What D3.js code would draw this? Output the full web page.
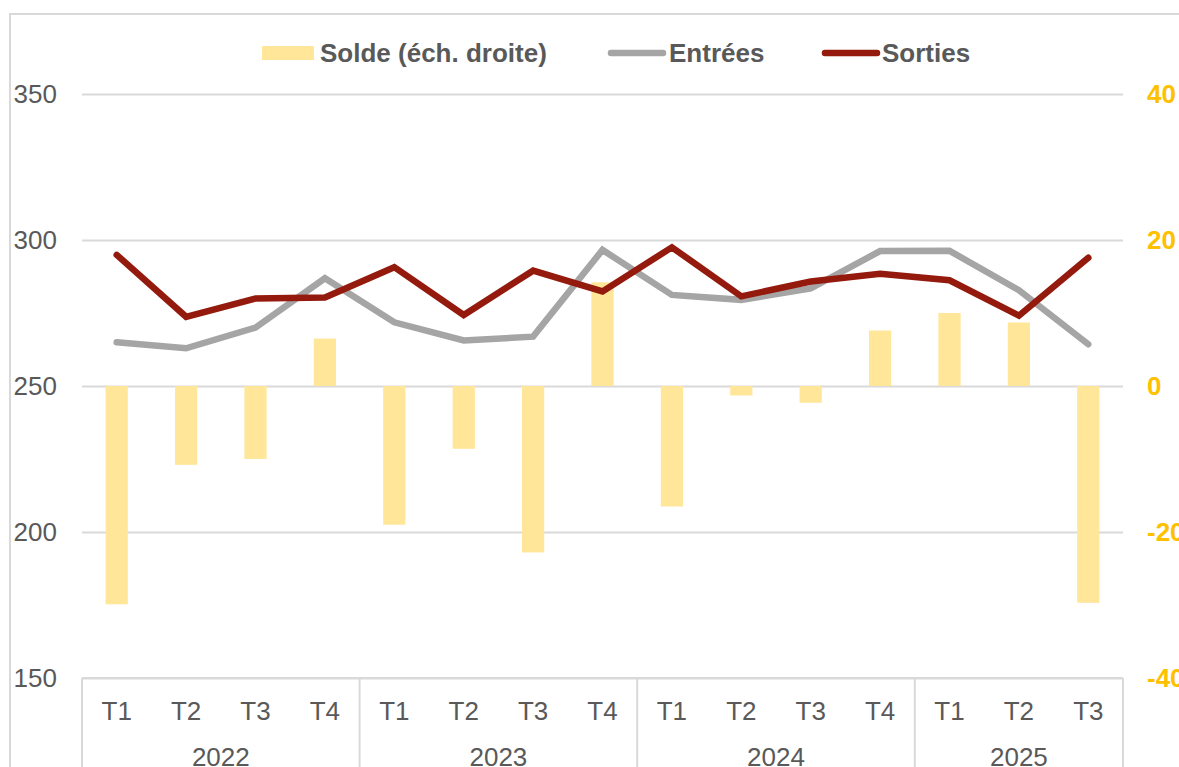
<!DOCTYPE html>
<html>
<head>
<meta charset="utf-8">
<script src="https://cdn.jsdelivr.net/npm/d3@7"></script>
<style>
  html, body { margin: 0; padding: 0; background: #fff; overflow: hidden; }
  svg { display: block; font-family: "Liberation Sans", Arial, sans-serif; }
</style>
</head>
<body>
<svg id="chart" width="1179" height="767"></svg>
<script>
// ---- Data ----
const years = ["2022", "2023", "2024", "2025"];
const quarters = ["T1","T2","T3","T4","T1","T2","T3","T4","T1","T2","T3","T4","T1","T2","T3"];
const quarterYears = ["2022","2022","2022","2022","2023","2023","2023","2023","2024","2024","2024","2024","2025","2025","2025"];
const entrees = [265.0, 262.9, 270.0, 286.9, 271.8, 265.6, 266.9, 296.6, 281.2, 279.5, 283.4, 296.2, 296.3, 282.8, 264.3];
const sorties = [294.9, 273.7, 280.0, 280.3, 290.7, 274.3, 289.5, 282.4, 297.5, 280.7, 285.8, 288.4, 286.2, 274.1, 293.9];
const solde   = [-29.9, -10.8, -10.0, 6.5, -19.0, -8.6, -22.8, 14.2, -16.5, -1.3, -2.3, 7.6, 10.0, 8.7, -29.7];
const leftTicks = [150, 200, 250, 300, 350];
const rightTicks = [-40, -20, 0, 20, 40];
const legendLabels = ["Solde (éch. droite)", "Entrées", "Sorties"];

// ---- Layout ----
const svg = d3.select("#chart");
const plot = { left: 82, right: 1123, top: 94, bottom: 678 };
const textColor = "#595959";
const gridColor = "#D9D9D9";
const barColor = "#FFE699";
const grayColor = "#A5A5A5";
const redColor = "#941A0D";
const axisColor = "#FFC000";
const fontSize = 26;

const keys = quarters.map((q, i) => quarterYears[i] + "-" + q);
const x = d3.scaleBand().domain(keys).range([plot.left, plot.right]).padding(0);
const yL = d3.scaleLinear().domain([150, 350]).range([plot.bottom, plot.top]);
const yR = d3.scaleLinear().domain([-40, 40]).range([plot.bottom, plot.top]);
const cx = k => x(k) + x.bandwidth() / 2;

// Outer frame
svg.append("rect")
  .attr("x", 10).attr("y", 14).attr("width", 1400).attr("height", 1000)
  .attr("fill", "#fff").attr("stroke", gridColor).attr("stroke-width", 2);

// Gridlines
const grid = svg.append("g").attr("transform", `translate(${plot.left},0)`)
  .call(d3.axisLeft(yL).tickValues(leftTicks).tickSize(-(plot.right - plot.left)).tickFormat(""));
grid.select(".domain").remove();
grid.selectAll("line").attr("stroke", gridColor).attr("stroke-width", 2);

// Left axis labels
const axL = svg.append("g").attr("transform", `translate(${plot.left},0)`)
  .call(d3.axisLeft(yL).tickValues(leftTicks).tickSize(0).tickPadding(25).tickFormat(d => String(d)));
axL.select(".domain").remove();
axL.selectAll("text").attr("fill", textColor).style("font-size", fontSize + "px")
  .style("font-family", "Liberation Sans, Arial, sans-serif");

// Right axis labels
const axR = svg.append("g").attr("transform", `translate(${plot.right},0)`)
  .call(d3.axisRight(yR).tickValues(rightTicks).tickSize(0).tickPadding(24).tickFormat(d => String(d)));
axR.select(".domain").remove();
axR.selectAll("text").attr("fill", axisColor).style("font-size", fontSize + "px")
  .style("font-weight", "bold").style("font-family", "Liberation Sans, Arial, sans-serif");

// Bars (Solde, right scale)
const barW = x.bandwidth() * 0.32;
svg.append("g").selectAll("rect").data(solde).join("rect")
  .attr("x", (d, i) => cx(keys[i]) - barW / 2)
  .attr("width", barW)
  .attr("y", d => Math.min(yR(d), yR(0)))
  .attr("height", d => Math.abs(yR(d) - yR(0)))
  .attr("fill", barColor);

// Bottom axis box
const axB = svg.append("g").attr("transform", `translate(0,${plot.bottom})`)
  .call(d3.axisBottom(x).tickSize(0).tickFormat((k, i) => quarters[i]));
axB.select(".domain").remove();
axB.selectAll("text").attr("y", 42).attr("dy", null).attr("fill", textColor)
  .style("font-size", fontSize + "px").style("font-family", "Liberation Sans, Arial, sans-serif");

svg.append("line")
  .attr("x1", plot.left).attr("x2", plot.right)
  .attr("y1", yL(150)).attr("y2", yL(150))
  .attr("stroke", gridColor).attr("stroke-width", 2);

// group separators & year labels
const groups = years.map(yr => {
  const ks = keys.filter((k, i) => quarterYears[i] === yr);
  const x0 = x(ks[0]);
  const x1 = x(ks[ks.length - 1]) + x.bandwidth();
  return { yr, x0, x1 };
});
const sepX = groups.map(g => g.x0).concat([plot.right]);
svg.append("g").selectAll("line").data(sepX).join("line")
  .attr("x1", d => d).attr("x2", d => d)
  .attr("y1", plot.bottom).attr("y2", 800)
  .attr("stroke", gridColor).attr("stroke-width", 2);
svg.append("g").selectAll("text").data(groups).join("text")
  .attr("x", d => (d.x0 + d.x1) / 2).attr("y", 766)
  .attr("text-anchor", "middle").attr("fill", textColor)
  .style("font-size", fontSize + "px")
  .text(d => d.yr);

// Lines
const lineL = d3.line().x((d, i) => cx(keys[i])).y(d => yL(d));
svg.append("path").datum(entrees).attr("d", lineL)
  .attr("fill", "none").attr("stroke", grayColor).attr("stroke-width", 6.5)
  .attr("stroke-linejoin", "miter").attr("stroke-linecap", "round");
svg.append("path").datum(sorties).attr("d", lineL)
  .attr("fill", "none").attr("stroke", redColor).attr("stroke-width", 6.5)
  .attr("stroke-linejoin", "miter").attr("stroke-linecap", "round");

// Legend
const lg = svg.append("g").style("font-size", fontSize + "px").style("font-weight", "bold");
lg.append("rect").attr("x", 262).attr("y", 46).attr("width", 52).attr("height", 14).attr("fill", barColor);
lg.append("text").attr("x", 320).attr("y", 62).attr("fill", textColor).text(legendLabels[0]);
lg.append("line").attr("x1", 611).attr("x2", 663).attr("y1", 53).attr("y2", 53)
  .attr("stroke", grayColor).attr("stroke-width", 6.5).attr("stroke-linecap", "round");
lg.append("text").attr("x", 669).attr("y", 62).attr("fill", textColor).text(legendLabels[1]);
lg.append("line").attr("x1", 825).attr("x2", 877).attr("y1", 53).attr("y2", 53)
  .attr("stroke", redColor).attr("stroke-width", 6.5).attr("stroke-linecap", "round");
lg.append("text").attr("x", 882).attr("y", 62).attr("fill", textColor).text(legendLabels[2]);
</script>
</body>
</html>
